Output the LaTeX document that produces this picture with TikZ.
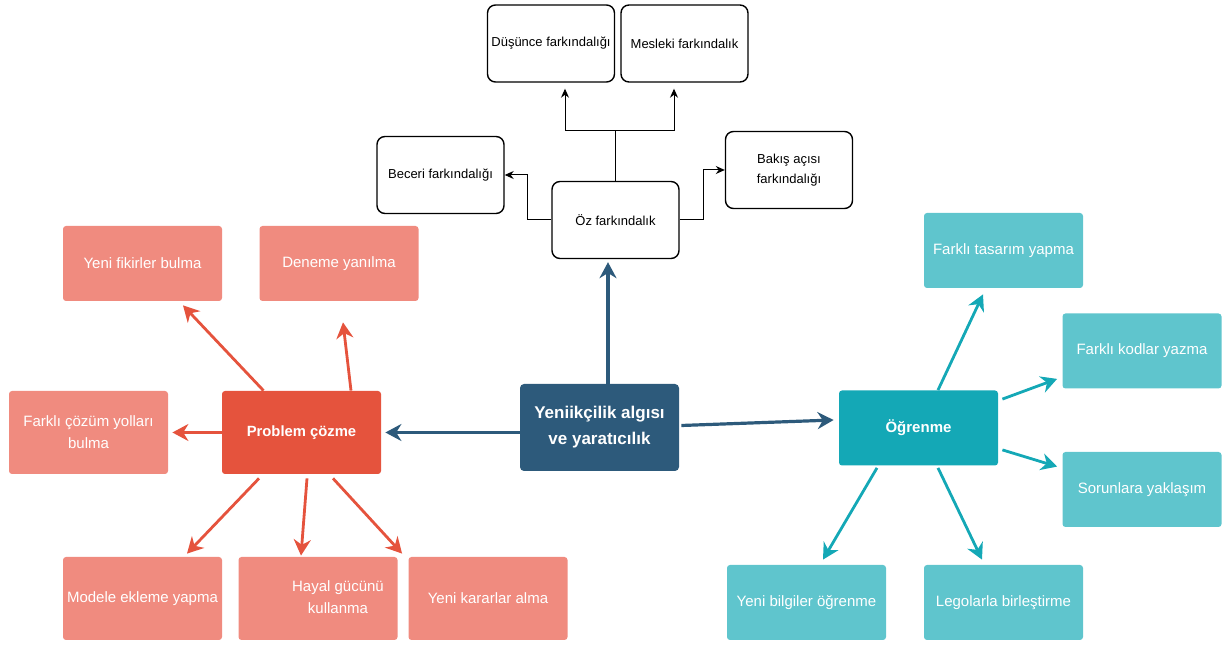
\documentclass[tikz,border=0pt]{standalone}
\usepackage{fontspec}
\setmainfont{Liberation Sans}
\usepackage{tikz}
\usetikzlibrary{positioning, arrows.meta, calc}

\definecolor{lacivert}{HTML}{2D5A7B}
\definecolor{kirmizi}{HTML}{E5533D}
\definecolor{pembe}{HTML}{F08B7F}
\definecolor{turkuaz}{HTML}{14A8B6}
\definecolor{acikturkuaz}{HTML}{5FC5CD}

\begin{document}
\begin{tikzpicture}[
    x=0.5pt, y=-0.5pt, >={Stealth[length=4.5pt, width=4pt]},
    kutu/.style={draw, rounded corners=4pt, line width=0.7pt, minimum width=63.5pt, minimum height=38.5pt, inner sep=1pt, align=center, font=\fontsize{6.5}{10}\selectfont},
    merkez/.style={fill=lacivert, rounded corners=2pt, minimum width=79.5pt, minimum height=43.5pt, text=white, align=center, font=\bfseries\fontsize{8.5}{13}\selectfont},
    dal/.style={rounded corners=1.5pt, minimum width=79.5pt, minimum height=37.5pt, inner sep=1pt, text=white, align=center, font=\fontsize{7.5}{11}\selectfont},
    kirmizikutu/.style={dal, fill=kirmizi, minimum height=41.5pt, font=\bfseries\fontsize{7.4}{11}\selectfont},
    pembekutu/.style={dal, fill=pembe},
    turkuazkutu/.style={dal, fill=turkuaz, font=\bfseries\fontsize{7.5}{11}\selectfont},
    acikkutu/.style={dal, fill=acikturkuaz},
    kirmiziok/.style={-{Stealth[length=8pt, width=8.5pt]}, line width=1.4pt, draw=kirmizi},
    turkuazok/.style={-{Stealth[length=8pt, width=8.5pt]}, line width=1.4pt, draw=turkuaz},
    laciok/.style={-{Stealth[length=8pt, width=8.5pt]}, line width=1.6pt, draw=lacivert}
]
\useasboundingbox (0,0) rectangle (1228,646);

% Ana kutular
\node[merkez] (yeni) at (599.5,427.5) {Yeniikçilik algısı\\ve yaratıcılık};
\node[kirmizikutu] (prob) at (301.5,432.5) {Problem çözme};
\node[turkuazkutu] (ogr) at (918.5,428) {Öğrenme};

% Farkındalık kutuları
\node[kutu] (oz) at (615.5,220) {Öz farkındalık};
\node[kutu] (dus) at (551,43.5) {Düşünce farkındalığı};
\node[kutu] (mes) at (684.5,43.5) {Mesleki farkındalık};
\node[kutu] (bec) at (440.5,175) {Beceri farkındalığı};
\node[kutu] (bak) at (789,170) {Bakış açısı\\farkındalığı};

% Problem çözme kutuları
\node[pembekutu] (fik) at (142.5,263.5) {Yeni fikirler bulma};
\node[pembekutu] (den) at (339,263.5) {Deneme yanılma};
\node[pembekutu, minimum height=41.5pt] (coz) at (88.5,432.5) {Farklı çözüm yolları\\bulma};
\node[pembekutu, minimum height=41.5pt] (mod) at (142.5,598.5) {Modele ekleme yapma};
\node[pembekutu, minimum height=41.5pt] (hay) at (318,598.5) {\hspace*{20pt}\begin{tabular}{@{}c@{}}Hayal gücünü\\kullanma\end{tabular}};
\node[pembekutu, minimum height=41.5pt] (kar) at (488,598.5) {Yeni kararlar alma};

% Öğrenme kutuları
\node[acikkutu] (tas) at (1003.5,250.5) {Farklı tasarım yapma};
\node[acikkutu] (kod) at (1142,351) {Farklı kodlar yazma};
\node[acikkutu] (sor) at (1142,489.5) {Sorunlara yaklaşım};
\node[acikkutu] (bil) at (806.5,602.5) {Yeni bilgiler öğrenme};
\node[acikkutu] (leg) at (1003.5,602.5) {Legolarla birleştirme};

% Ana oklar
\draw[laciok] (yeni.west |- prob.east) -- ($(prob.east)+(4,0)$);
\draw[laciok] ($(yeni.east)+(2,-2)$) -- ($(ogr.west)+(-5,-8)$);
\draw[laciok] ($(yeni.north)+(8.5,0)$) -- ($(oz.south)+(-7.5,3)$);

% Öz farkındalık okları
\draw[line width=0.5pt] (oz.north) -- ++(0,-50) coordinate (ayrim);
\draw[->, line width=0.5pt] (ayrim) -| ($(dus.south)+(14,6)$);
\draw[->, line width=0.5pt] (ayrim) -| ($(mes.south)+(-10.5,6)$);
\draw[->, line width=0.5pt] (oz.west) -- ++(-24,0) |- (bec.east);
\draw[->, line width=0.5pt] (oz.east) -- ++(24,0) |- (bak.west);

% Problem çözme okları
\draw[kirmiziok] ($(prob.north)+(-38,0)$) -- ($(fik.south)+(40.5,4)$);
\draw[kirmiziok] ($(prob.north)+(49.5,0)$) -- ($(den.south)+(4,21)$);
\draw[kirmiziok] (prob.west) -- ($(coz.east)+(4,0)$);
\draw[kirmiziok] ($(prob.south)+(-42.5,4)$) -- ($(mod.north)+(44.5,-3)$);
\draw[kirmiziok] ($(prob.south)+(5.5,4)$) -- ($(hay.north)+(-17,-1)$);
\draw[kirmiziok] ($(prob.south)+(31.5,4)$) -- ($(kar.north west)+(-6,-3)$);

% Öğrenme okları
\draw[turkuazok] ($(ogr.north)+(19.5,0)$) -- ($(tas.south)+(-20.5,6)$);
\draw[turkuazok] ($(ogr.north east)+(4,9)$) -- ($(kod.south west)+(-5,-10)$);
\draw[turkuazok] ($(ogr.south east)+(4,-16)$) -- ($(sor.north west)+(-5,15)$);
\draw[turkuazok] ($(ogr.south)+(-41.5,2)$) -- ($(bil.north)+(16.5,-5)$);
\draw[turkuazok] ($(ogr.south)+(19.5,2)$) -- ($(leg.north)+(-21.5,-5)$);

\end{tikzpicture}
\end{document}
